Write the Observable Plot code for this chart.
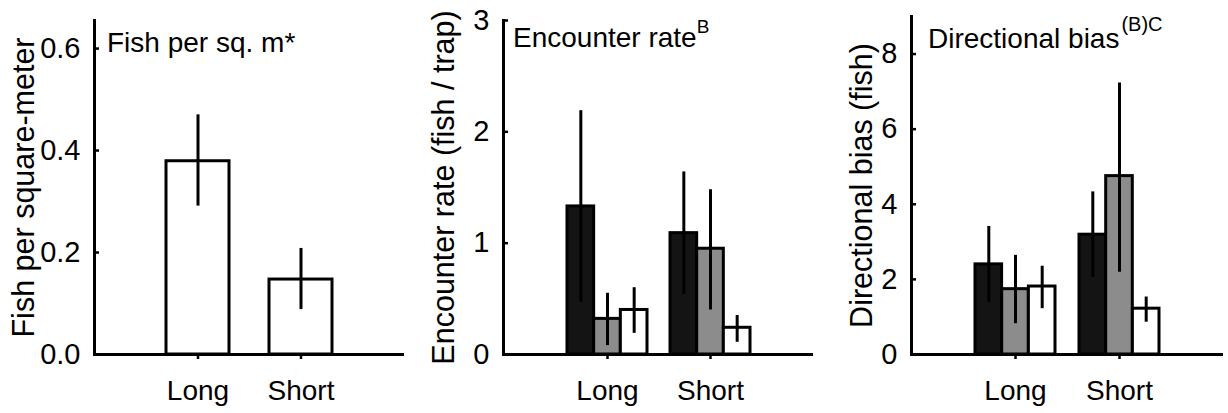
<!DOCTYPE html>
<html>
<head>
<meta charset="utf-8">
<script src="https://cdn.jsdelivr.net/npm/d3@7"></script>
<script src="https://cdn.jsdelivr.net/npm/@observablehq/plot@0.6"></script>
<style>
  body { margin: 0; background: #fff; }
  #row { display: flex; width: 1228px; height: 413px; }
  .panel { position: relative; height: 413px; }
  .title { position: absolute; font-family: "Liberation Sans", Arial, sans-serif; font-size: 28px; line-height: 28px; white-space: nowrap; color: #000; }
  .title .sup { line-height: 0; }
</style>
</head>
<body>
<div id="row"></div>
<script>
// ---------- data ----------
const groups = ["Long", "Short"];

// Panel 1: Fish per square-meter (single open bar per group)
const densityMean = [0.379, 0.147];
const densityLow  = [0.291, 0.088];
const densityHigh = [0.470, 0.208];

// Panel 2: Encounter rate (fish / trap); three bars per group (black, gray, white)
const encounterLongMean  = [1.33, 0.32, 0.40];
const encounterLongLow   = [0.47, 0.08, 0.19];
const encounterLongHigh  = [2.19, 0.55, 0.60];
const encounterShortMean = [1.09, 0.95, 0.24];
const encounterShortLow  = [0.54, 0.40, 0.11];
const encounterShortHigh = [1.64, 1.48, 0.35];

// Panel 3: Directional bias (fish)
const biasLongMean  = [2.40, 1.74, 1.81];
const biasLongLow   = [1.39, 0.82, 1.22];
const biasLongHigh  = [3.41, 2.64, 2.35];
const biasShortMean = [3.19, 4.75, 1.22];
const biasShortLow  = [2.05, 2.19, 0.86];
const biasShortHigh = [4.33, 7.23, 1.53];

const densityTicks   = [0, 0.2, 0.4, 0.6];
const encounterTicks = [0, 1, 2, 3];
const biasTicks      = [0, 2, 4, 6, 8];

// ---------- styles ----------
const FONT = "Liberation Sans, Arial, Helvetica, sans-serif";
const fillsSingle = ["#ffffff"];
const fillsTriple = ["#141414", "#8c8c8c", "#ffffff"];

function rowsFrom(means, lows, highs) {
  const rows = [];
  groups.forEach((g, gi) => {
    means[gi].forEach((m, k) => rows.push({group: g, sub: k, mean: m, lo: lows[gi][k], hi: highs[gi][k]}));
  });
  return rows;
}

function panel(cfg) {
  const {width, height = 413, marginLeft, marginRight, marginTop, marginBottom = 59,
         yDomain, yTicks, yFormat, yLabel, labelOffset, rows, fills, paddingInner, paddingOuter} = cfg;
  const nSub = fills.length;
  const band = d3.scaleBand(groups, [marginLeft, width - marginRight])
    .paddingInner(paddingInner).paddingOuter(paddingOuter);
  const sw = band.bandwidth() / nSub;
  const marks = [];
  for (let k = 0; k < nSub; k++) {
    marks.push(Plot.barY(rows.filter(d => d.sub === k), {
      x: "group", y: "mean", fill: fills[k], stroke: "#000", strokeWidth: 3,
      insetLeft: k * sw, insetRight: (nSub - 1 - k) * sw
    }));
  }
  for (let k = 0; k < nSub; k++) {
    marks.push(Plot.ruleX(rows.filter(d => d.sub === k), {
      x: "group", y1: "lo", y2: "hi", stroke: "#000", strokeWidth: 3,
      dx: (k - (nSub - 1) / 2) * sw
    }));
  }
  marks.push(
    Plot.ruleY([0], {stroke: "#000", strokeWidth: 3}),
    Plot.frame({anchor: "left", stroke: "#000", strokeWidth: 3}),
    // inward tick marks
    Plot.axisY({ticks: yTicks, tickSize: 5, dx: 5, tickFormat: () => "", strokeWidth: 2.5, label: null}),
    // tick labels
    Plot.axisY({ticks: yTicks, tickFormat: yFormat, tickSize: 0, tickPadding: 14, fontSize: 29, label: null}),
    Plot.axisY({ticks: [], label: yLabel, labelAnchor: "center", labelArrow: "none", labelOffset, fontSize: 30.5}),
    Plot.axisX({tickSize: 5, tickPadding: 21, fontSize: 28, strokeWidth: 2.5, label: null})
  );
  return Plot.plot({
    width, height, marginLeft, marginRight, marginTop, marginBottom,
    style: {fontFamily: FONT, background: "#fff", color: "#000", overflow: "visible"},
    x: {domain: groups, paddingInner, paddingOuter},
    y: {domain: yDomain},
    marks
  });
}

const row = document.getElementById("row");
function addPanel(width, svg, titleHTML, titleLeft, titleTop) {
  const div = document.createElement("div");
  div.className = "panel";
  div.style.width = width + "px";
  div.appendChild(svg);
  const t = document.createElement("div");
  t.className = "title";
  t.style.left = titleLeft + "px";
  t.style.top = titleTop + "px";
  t.innerHTML = titleHTML;
  div.appendChild(t);
  row.appendChild(div);
}

// Panel 1
addPanel(410, panel({
  width: 410, marginLeft: 94, marginRight: 6, marginTop: 20,
  yDomain: [0, 0.655], yTicks: densityTicks, yFormat: d3.format(".1f"),
  yLabel: "Fish per square-meter", labelOffset: 82,
  rows: rowsFrom(densityMean.map(v => [v]), densityLow.map(v => [v]), densityHigh.map(v => [v])),
  fills: fillsSingle, paddingInner: 0.385, paddingOuter: 0.683
}), "Fish per sq. m*", 107, 29);

// Panel 2
addPanel(410, panel({
  width: 410, marginLeft: 93, marginRight: 7, marginTop: 20,
  yDomain: [0, 3], yTicks: encounterTicks, yFormat: d3.format("d"),
  yLabel: "Encounter rate (fish / trap)", labelOffset: 71,
  rows: rowsFrom([encounterLongMean, encounterShortMean], [encounterLongLow, encounterShortLow], [encounterLongHigh, encounterShortHigh]),
  fills: fillsTriple, paddingInner: 0.2256, paddingOuter: 0.613
}), 'Encounter rate<span class="sup" style="font-size:19px;vertical-align:14px">B</span>', 103, 24);

// Panel 3
addPanel(408, panel({
  width: 408, marginLeft: 91, marginRight: 5, marginTop: 16,
  yDomain: [0, 9], yTicks: biasTicks, yFormat: d3.format("d"),
  yLabel: "Directional bias (fish)", labelOffset: 61,
  rows: rowsFrom([biasLongMean, biasShortMean], [biasLongLow, biasShortLow], [biasLongHigh, biasShortHigh]),
  fills: fillsTriple, paddingInner: 0.23, paddingOuter: 0.615
}), 'Directional bias<span class="sup" style="font-size:20px;vertical-align:17px;margin-left:2px">(B)C</span>', 108, 24);
</script>
</body>
</html>
